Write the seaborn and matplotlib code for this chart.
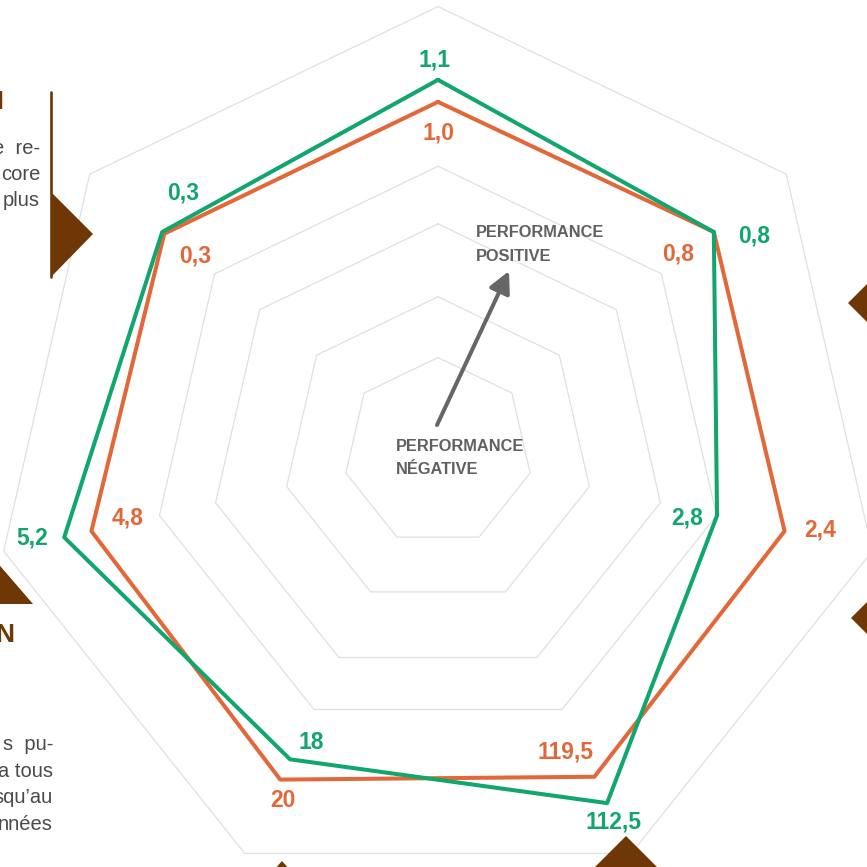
import numpy as np
import matplotlib
matplotlib.use("Agg")
import matplotlib.pyplot as plt
from matplotlib.patches import Polygon
import seaborn as sns

# ---------------- data ----------------
axis_names = ["Axe 1", "Axe 2", "Axe 3", "Axe 4", "Axe 5", "Axe 6", "Axe 7"]
green_scores = [82.7, 78.4, 63.6, 86.6, 75.8, 85.2, 78.4]
green_labels = ["1,1", "0,8", "2,8", "112,5", "18", "5,2", "0,3"]
orange_scores = [77.8, 78.4, 79.0, 80.1, 80.8, 79.0, 77.8]
orange_labels = ["1,0", "0,8", "2,4", "119,5", "20", "4,8", "0,3"]
grid_levels = [21, 34.5, 50.7, 63.5, 99]

# label offsets (pixels, y up)
green_offsets = [(-4, 20), (40, -4), (-30, -2), (6, -19), (21, 17), (-32, -1), (21, 39)]
orange_offsets = [(0, -31), (-36, -22), (36, 1), (-29, 25), (3, -21), (36, 13), (31, -22)]

GREEN = "#10a66e"
ORANGE = "#e2683a"
BROWN = "#6f3606"
GRID = "#e0e0e0"
DARK = "#606060"
BODY = "#4a4a4a"

W = H = 867
DPI = 100
PX_PER_UNIT = 4.5
R_MAX = 115
CX, CY = 438, 452

sns.set_theme(style="white")
plt.rcParams["font.family"] = ["Liberation Sans", "DejaVu Sans"]

fig = plt.figure(figsize=(W / DPI, H / DPI), dpi=DPI)
fig.patch.set_facecolor("white")
rad_px = R_MAX * PX_PER_UNIT
ax = fig.add_axes([(CX - rad_px) / W, (H - CY - rad_px) / H, 2 * rad_px / W, 2 * rad_px / H],
                  projection="polar")
ax.set_theta_zero_location("N")
ax.set_theta_direction(-1)
ax.set_ylim(0, R_MAX)
ax.grid(False)
ax.set_xticks([])
ax.set_yticks([])
ax.spines["polar"].set_visible(False)
ax.patch.set_alpha(0)

n = len(axis_names)
theta = np.arange(n) * 2 * np.pi / n
theta_c = np.append(theta, theta[0] + 2 * np.pi)

# heptagonal grid
for lv in grid_levels:
    ax.plot(theta_c, [lv] * (n + 1), color=GRID, lw=0.9, solid_joinstyle="round", zorder=1)

def closed(v):
    return np.append(np.asarray(v, float), v[0])

sns.lineplot(x=theta_c, y=closed(orange_scores), sort=False, estimator=None,
             color=ORANGE, lw=2.9, ax=ax, zorder=3)
sns.lineplot(x=theta_c, y=closed(green_scores), sort=False, estimator=None,
             color=GREEN, lw=2.9, ax=ax, zorder=4)
ax.set_xlabel("")
ax.set_ylabel("")

for t, r, lab, off in zip(theta, orange_scores, orange_labels, orange_offsets):
    ax.annotate(lab, xy=(t, r), xytext=off, textcoords="offset pixels",
                ha="center", va="center", color=ORANGE, fontsize=16.5,
                fontweight="bold", zorder=5)
for t, r, lab, off in zip(theta, green_scores, green_labels, green_offsets):
    ax.annotate(lab, xy=(t, r), xytext=off, textcoords="offset pixels",
                ha="center", va="center", color=GREEN, fontsize=16.5,
                fontweight="bold", zorder=5)

# performance arrow
ax.annotate("", xy=(0.374, 43.2), xytext=(-0.037, 6.0),
            arrowprops=dict(arrowstyle="-|>,head_length=0.65,head_width=0.33",
                            lw=2.9, color="#666666", mutation_scale=20,
                            shrinkA=0, shrinkB=0), zorder=5)

def fx(x):
    return x / W

def fy(y):
    return 1 - y / H

tk = dict(color=DARK, fontsize=11.8, fontweight="bold", ha="left", va="baseline")
fig.text(fx(476), fy(237), "PERFORMANCE", **tk)
fig.text(fx(476), fy(261), "POSITIVE", **tk)
fig.text(fx(396), fy(451), "PERFORMANCE", **tk)
fig.text(fx(396), fy(474), "NÉGATIVE", **tk)

# decorative fragments of the surrounding page
bk = dict(color=BODY, fontsize=14.5, ha="right", va="baseline")
fig.text(fx(40), fy(154), "e  re-", **bk)
fig.text(fx(40), fy(180), "core", **bk)
fig.text(fx(40), fy(206), "plus", **bk)
fig.text(fx(53), fy(750), "s  pu-", **bk)
fig.text(fx(53), fy(777), "a tous", **bk)
fig.text(fx(53), fy(803), "squ\u2019au", **bk)
fig.text(fx(53), fy(830), "nnées", **bk)
fig.text(fx(3.5), fy(109), "I", color=BROWN, fontsize=18, fontweight="bold", ha="right", va="baseline")
fig.text(fx(14), fy(642), "N", color=BROWN, fontsize=19, fontweight="bold", ha="right", va="baseline")

fig.add_artist(plt.Line2D([fx(51), fx(51)], [fy(92), fy(277)], color=BROWN, lw=1.9,
                          transform=fig.transFigure))
tris = [
    [(51, 192), (51, 277), (93, 234)],
    [(-5, 560), (33, 604), (-5, 604)],
    [(848, 303), (870, 281), (870, 325)],
    [(851, 618), (870, 599), (870, 637)],
    [(626, 836), (592, 870), (660, 870)],
    [(282, 861), (274, 870), (290, 870)],
]
for tri in tris:
    fig.add_artist(Polygon([(fx(x), fy(y)) for x, y in tri], closed=True,
                           facecolor=BROWN, edgecolor="none", transform=fig.transFigure))

fig.savefig("out.png", dpi=DPI, facecolor="white")
